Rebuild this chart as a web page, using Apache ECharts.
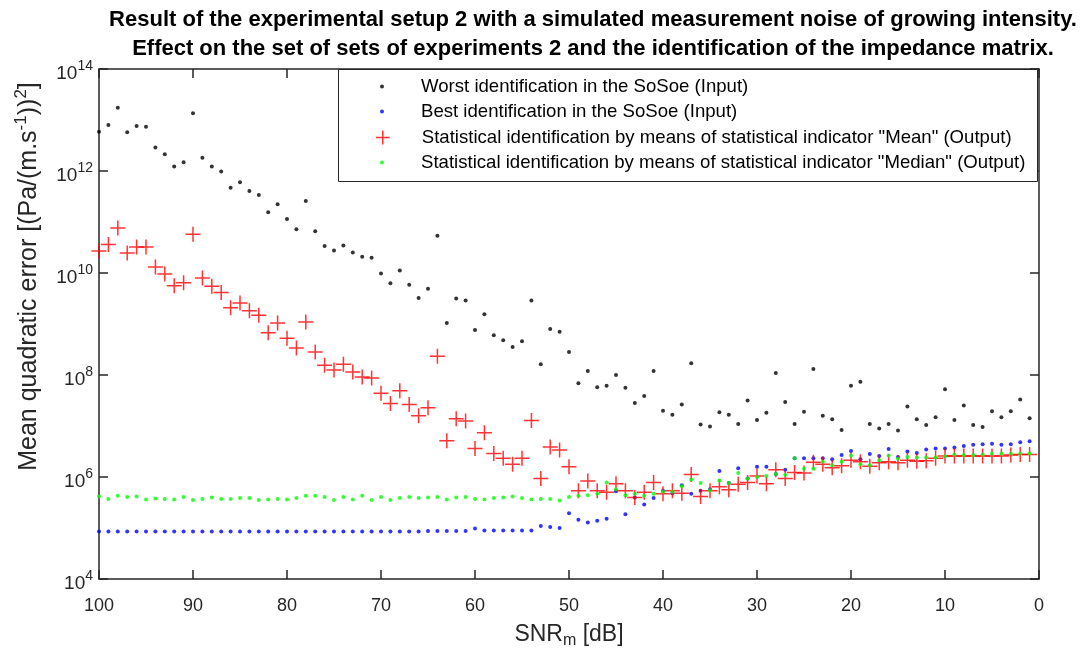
<!DOCTYPE html>
<html>
<head>
<meta charset="utf-8">
<script src="https://cdn.jsdelivr.net/npm/echarts@6.0.0/dist/echarts.min.js"></script>
<style>
html, body { margin: 0; padding: 0; background: #fff; }
#chart { width: 1090px; height: 653px; }
</style>
</head>
<body>
<div id="chart"></div>
<script>
// SNR_m [dB], one point per dB
const snr = [100, 99, 98, 97, 96, 95, 94, 93, 92, 91,
  90, 89, 88, 87, 86, 85, 84, 83, 82, 81,
  80, 79, 78, 77, 76, 75, 74, 73, 72, 71,
  70, 69, 68, 67, 66, 65, 64, 63, 62, 61,
  60, 59, 58, 57, 56, 55, 54, 53, 52, 51,
  50, 49, 48, 47, 46, 45, 44, 43, 42, 41,
  40, 39, 38, 37, 36, 35, 34, 33, 32, 31,
  30, 29, 28, 27, 26, 25, 24, 23, 22, 21,
  20, 19, 18, 17, 16, 15, 14, 13, 12, 11,
  10, 9, 8, 7, 6, 5, 4, 3, 2, 1]

// values, stored as log10 of the error
const worstExp = [12.77, 12.90, 13.24, 12.76, 12.88, 12.87, 12.46, 12.33, 12.09, 12.17,
  13.13, 12.26, 12.09, 11.99, 11.67, 11.78, 11.61, 11.53, 11.19, 11.35,
  11.06, 10.86, 11.41, 10.82, 10.53, 10.44, 10.54, 10.40, 10.32, 10.30,
  9.99, 9.80, 10.05, 9.77, 9.51, 9.69, 10.73, 9.02, 9.50, 9.46,
  8.88, 9.19, 8.78, 8.68, 8.55, 8.66, 9.46, 8.21, 8.90, 8.85,
  8.45, 7.84, 8.08, 7.76, 7.79, 8.00, 7.75, 7.45, 7.59, 8.08,
  7.30, 7.22, 7.42, 8.23, 7.03, 6.99, 7.27, 7.22, 7.04, 7.50,
  7.12, 7.26, 8.04, 7.47, 7.04, 7.28, 8.12, 7.20, 7.13, 6.92,
  7.79, 7.87, 7.04, 6.95, 7.04, 6.91, 7.38, 7.13, 7.02, 7.17,
  7.72, 7.12, 7.40, 7.02, 6.98, 7.29, 7.17, 7.29, 7.52, 7.15]

const bestExp = [4.93, 4.93, 4.93, 4.93, 4.93, 4.93, 4.93, 4.93, 4.93, 4.93,
  4.93, 4.93, 4.93, 4.93, 4.93, 4.93, 4.93, 4.93, 4.93, 4.93,
  4.93, 4.93, 4.93, 4.93, 4.93, 4.93, 4.93, 4.93, 4.93, 4.93,
  4.93, 4.93, 4.93, 4.93, 4.93, 4.94, 4.94, 4.94, 4.94, 4.94,
  4.99, 4.95, 4.95, 4.95, 4.95, 4.95, 4.95, 5.04, 5.02, 5.00,
  5.29, 5.16, 5.11, 5.14, 5.18, 5.72, 5.27, 5.60, 5.46, 5.59,
  5.73, 5.68, 5.84, 5.67, 5.73, 5.76, 6.12, 5.88, 6.17, 5.97,
  6.20, 6.20, 6.06, 6.14, 6.37, 6.37, 6.37, 6.37, 6.35, 6.43,
  6.51, 6.35, 6.45, 6.41, 6.55, 6.39, 6.50, 6.47, 6.54, 6.56,
  6.56, 6.58, 6.61, 6.63, 6.64, 6.65, 6.63, 6.64, 6.68, 6.70]

const meanExp = [10.43, 10.56, 10.88, 10.39, 10.51, 10.51, 10.12, 9.98, 9.75, 9.81,
  10.76, 9.90, 9.74, 9.62, 9.32, 9.41, 9.26, 9.17, 8.83, 9.02,
  8.72, 8.53, 9.04, 8.45, 8.19, 8.10, 8.21, 8.06, 7.96, 7.94,
  7.64, 7.44, 7.69, 7.42, 7.20, 7.36, 8.37, 6.71, 7.14, 7.10,
  6.56, 6.87, 6.46, 6.37, 6.25, 6.37, 7.11, 5.97, 6.59, 6.53,
  6.20, 5.73, 5.92, 5.73, 5.70, 5.87, 5.73, 5.60, 5.70, 5.89,
  5.67, 5.73, 5.68, 6.05, 5.62, 5.73, 5.81, 5.75, 5.86, 5.89,
  6.02, 5.87, 6.14, 5.97, 6.09, 6.08, 6.29, 6.25, 6.18, 6.22,
  6.33, 6.30, 6.21, 6.28, 6.30, 6.28, 6.33, 6.31, 6.32, 6.37,
  6.41, 6.41, 6.41, 6.41, 6.41, 6.41, 6.41, 6.43, 6.44, 6.44]

const medianExp = [5.62, 5.57, 5.63, 5.61, 5.62, 5.56, 5.58, 5.57, 5.56, 5.61,
  5.55, 5.57, 5.60, 5.57, 5.57, 5.59, 5.59, 5.55, 5.56, 5.57,
  5.56, 5.59, 5.63, 5.63, 5.61, 5.55, 5.61, 5.56, 5.63, 5.55,
  5.61, 5.55, 5.59, 5.61, 5.59, 5.60, 5.61, 5.56, 5.60, 5.61,
  5.57, 5.56, 5.59, 5.60, 5.62, 5.59, 5.56, 5.57, 5.57, 5.54,
  5.61, 5.63, 5.64, 5.67, 5.89, 5.76, 5.64, 5.67, 5.63, 5.67,
  5.71, 5.71, 5.82, 5.95, 5.88, 5.74, 5.93, 5.88, 6.08, 5.97,
  6.00, 6.02, 6.06, 6.04, 6.37, 6.16, 6.16, 6.30, 6.23, 6.30,
  6.42, 6.25, 6.23, 6.33, 6.42, 6.36, 6.39, 6.38, 6.38, 6.38,
  6.40, 6.44, 6.43, 6.43, 6.44, 6.46, 6.46, 6.46, 6.46, 6.46]

const seriesNames = [
  'Worst identification in the SoSoe (Input)',
  'Best identification in the SoSoe (Input)',
  'Statistical identification by means of statistical indicator "Mean" (Output)',
  'Statistical identification by means of statistical indicator "Median" (Output)'
]

const font = "'Liberation Sans', Arial, sans-serif"
const axisColor = '#262626'

function toPoints (exps) {
  return snr.map((x, i) => [x, Math.pow(10, exps[i])])
}

function powLabel (v) {
  return '{b|10}{s|' + Math.round(Math.log10(v)) + '}'
}

const powRich = {
  b: { fontSize: 19, color: axisColor, fontFamily: font, lineHeight: 19, padding: [9, 0, 0, 0] },
  s: { fontSize: 14, color: axisColor, fontFamily: font, lineHeight: 14, verticalAlign: 'top' }
}

const boxAxisLine = { show: true, onZero: false, lineStyle: { color: axisColor, width: 1.5 } }
const boxTick = { show: true, inside: true, length: 9, lineStyle: { color: axisColor, width: 1.5 } }

// legend rows: y of each row centre, icon size of each row
const legendRows = [88, 113, 139, 164]
const legendIcon = [4, 4, 14, 4]

const chart = echarts.init(document.getElementById('chart'))
chart.setOption({
  animation: false,
  backgroundColor: '#fff',
  textStyle: { fontFamily: font },
  title: {
    text: 'Result of the experimental setup 2 with a simulated measurement noise of growing intensity.\nEffect on the set of sets of experiments 2 and the identification of the impedance matrix.',
    left: 588,
    top: 0,
    textAlign: 'center',
    textStyle: { fontSize: 22, fontWeight: 'bold', color: '#000', lineHeight: 29, fontFamily: font }
  },
  grid: { left: 99, right: 51, top: 69, bottom: 74, containLabel: false, outerBoundsMode: 'none' },
  xAxis: [
    {
      type: 'value', inverse: true, min: 0, max: 100, interval: 10,
      position: 'bottom',
      axisLine: boxAxisLine,
      axisTick: boxTick,
      splitLine: { show: false },
      axisLabel: { margin: 18, fontSize: 18, color: axisColor, fontFamily: font },
      name: '{n|SNR}{sub|m}{n| [dB]}',
      nameLocation: 'middle',
      nameGap: 47,
      nameTextStyle: {
        rich: {
          n: { fontSize: 23, color: axisColor, fontFamily: font, lineHeight: 23, padding: [0, 0, 6, 0] },
          sub: { fontSize: 16, color: axisColor, fontFamily: font, lineHeight: 16, verticalAlign: 'bottom' }
        }
      }
    },
    {
      type: 'value', inverse: true, min: 0, max: 100, interval: 10,
      position: 'top',
      axisLine: boxAxisLine,
      axisTick: boxTick,
      splitLine: { show: false },
      axisLabel: { show: false }
    }
  ],
  yAxis: [
    {
      type: 'log', logBase: 10, min: 1e4, max: 1e14, interval: 2,
      position: 'left',
      axisLine: boxAxisLine,
      axisTick: boxTick,
      minorTick: { show: false },
      splitLine: { show: false },
      axisLabel: { margin: 6, formatter: powLabel, rich: powRich },
      name: '{n|Mean quadratic error [(Pa/(m.s}{s|-1}{n|))}{s|2}{n|]}',
      nameLocation: 'middle',
      nameRotate: 90,
      nameGap: 61,
      nameTextStyle: {
        // left padding (along the rotated text) lifts the label towards the top of the axis
        padding: [0, 0, 0, 95],
        rich: {
          n: { fontSize: 25, color: axisColor, fontFamily: font, lineHeight: 25, padding: [8, 0, 0, 0] },
          s: { fontSize: 17, color: axisColor, fontFamily: font, lineHeight: 17, verticalAlign: 'top' }
        }
      }
    },
    {
      type: 'log', logBase: 10, min: 1e4, max: 1e14, interval: 2,
      position: 'right',
      axisLine: boxAxisLine,
      axisTick: boxTick,
      minorTick: { show: false },
      splitLine: { show: false },
      axisLabel: { show: false }
    }
  ],
  legend: seriesNames.map((n, i) => ({
    data: [n],
    // the legend box starts at the icon's drawn edge, so centre icons on x = 382
    left: 382 - legendIcon[i] / 2,
    top: legendRows[i] - 11,
    padding: 0,
    itemWidth: 68,
    itemHeight: legendIcon[i],
    selectedMode: false,
    itemStyle: i === 2 ? { borderWidth: 1.5 } : {},
    textStyle: { fontSize: 18.6, color: '#000', fontFamily: font }
  })),
  graphic: [{
    type: 'rect',
    z: 3,
    shape: { x: 338.5, y: 69.5, width: 699, height: 112 },
    style: { fill: '#fff', stroke: axisColor, lineWidth: 1 }
  }],
  series: [
    {
      name: seriesNames[0], type: 'scatter', data: toPoints(worstExp),
      symbol: 'circle', symbolSize: 4, silent: true,
      itemStyle: { color: '#000000' }
    },
    {
      name: seriesNames[1], type: 'scatter', data: toPoints(bestExp),
      symbol: 'circle', symbolSize: 4, silent: true,
      itemStyle: { color: '#0000ff' }
    },
    {
      name: seriesNames[2], type: 'scatter', data: toPoints(meanExp),
      symbol: 'path://M0,8L16,8M8,0L8,16', symbolSize: 15, silent: true,
      itemStyle: { color: '#ff0000', borderColor: '#ff0000', borderWidth: 1.5 }
    },
    {
      name: seriesNames[3], type: 'scatter', data: toPoints(medianExp),
      symbol: 'circle', symbolSize: 4, silent: true,
      itemStyle: { color: '#00ff00' }
    }
  ]
})
</script>
</body>
</html>
